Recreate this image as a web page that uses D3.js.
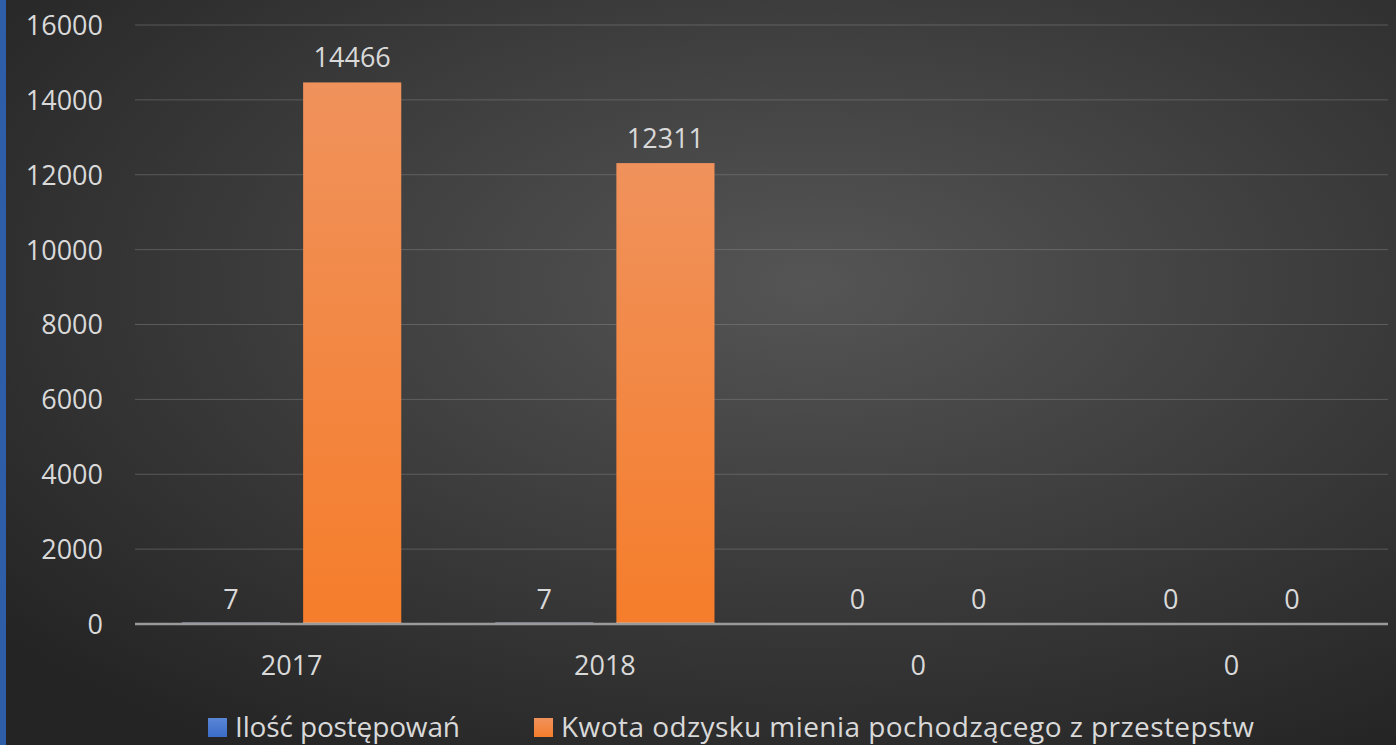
<!DOCTYPE html>
<html><head><meta charset="utf-8">
<script src="https://cdn.jsdelivr.net/npm/d3@7"></script>
<style>html,body{margin:0;padding:0;background:#2b2b2b;overflow:hidden}</style>
</head><body>
<script>
const categories = ["2017", "2018", "0", "0"];
const seriesNames = ["Ilość postępowań", "Kwota odzysku mienia pochodzącego z przestepstw"];
const seriesA = [7, 7, 0, 0];
const seriesB = [14466, 12311, 0, 0];
const yTicks = [0, 2000, 4000, 6000, 8000, 10000, 12000, 14000, 16000];

const W = 1396, H = 745;
const svg = d3.select("body").append("svg").attr("width", W).attr("height", H);
const defs = svg.append("defs");
const bg = defs.append("radialGradient").attr("id","bg").attr("cx","0.58").attr("cy","0.38").attr("r","0.75");
bg.append("stop").attr("offset","0").attr("stop-color","#555555");
bg.append("stop").attr("offset","1").attr("stop-color","#242424");
const og = defs.append("linearGradient").attr("id","og").attr("x1",0).attr("y1",0).attr("x2",0).attr("y2",1);
og.append("stop").attr("offset","0").attr("stop-color","#f0925c");
og.append("stop").attr("offset","1").attr("stop-color","#f57d2b");
const bgb = defs.append("linearGradient").attr("id","bgb").attr("x1",0).attr("y1",0).attr("x2",0).attr("y2",1);
bgb.append("stop").attr("offset","0").attr("stop-color","#5a86d6");
bgb.append("stop").attr("offset","1").attr("stop-color","#3a6cc8");

svg.append("rect").attr("width",W).attr("height",H).attr("fill","url(#bg)");
svg.append("rect").attr("x",0).attr("y",0).attr("width",6).attr("height",H).attr("fill","#2f5ea8");

const font = "'Open Sans', sans-serif";
const txt = "#d9d9d9";
const pLeft = 135, pRight = 1388, pTop = 25, pBottom = 624;
const y = d3.scaleLinear().domain([0,16000]).range([pBottom, pTop]);
const x0 = d3.scaleBand().domain(d3.range(categories.length)).range([pLeft, pRight]).paddingInner(0).paddingOuter(0);
const x1 = d3.scaleBand().domain([0,1]).range([47, x0.bandwidth()-47]).paddingInner(0.19);

// gridlines
svg.append("g").selectAll("line").data(yTicks.filter(d=>d>0)).join("line")
  .attr("x1",pLeft).attr("x2",pRight).attr("y1",d=>y(d)).attr("y2",d=>y(d))
  .attr("stroke","#8a8a8a").attr("stroke-opacity",0.45).attr("stroke-width",1);

// y axis labels
const yAxis = d3.axisLeft(y).tickValues(yTicks).tickSize(0).tickPadding(0).tickFormat(d3.format("d"));
const ya = svg.append("g").attr("transform",`translate(103,0)`).call(yAxis);
ya.select(".domain").remove();
ya.selectAll("text").attr("fill",txt).style("font-family",font).style("font-size","27px").attr("dy","0.35em");

const groups = svg.append("g").selectAll("g").data(categories.map((c,i)=>({c,i}))).join("g")
  .attr("transform",d=>`translate(${x0(d.i)},0)`);

// bars
groups.each(function(d){
  const g = d3.select(this);
  const vals = [seriesA[d.i], seriesB[d.i]];
  vals.forEach((v,k)=>{
    const h = pBottom - y(v);
    if (v>0) {
      g.append("rect").attr("x",x1(k)).attr("width",x1.bandwidth())
        .attr("y",y(v)).attr("height",Math.max(h,0))
        .attr("fill", k===0 ? "url(#bgb)" : "url(#og)");
    }
    g.append("text").attr("x",x1(k)+x1.bandwidth()/2).attr("y",y(v)-15)
      .attr("text-anchor","middle").attr("fill",txt).style("font-family",font).style("font-size","27px")
      .text(v);
  });
});

// baseline
svg.append("line").attr("x1",pLeft).attr("x2",pRight).attr("y1",pBottom).attr("y2",pBottom)
  .attr("stroke","#9a9a9a").attr("stroke-width",2.5);
groups.each(function(d){
  const g = d3.select(this);
  if (seriesA[d.i]>0) g.append("rect").attr("x",x1(0)).attr("width",x1.bandwidth()).attr("y",pBottom-1.5).attr("height",1.5).attr("fill","#a8bde6");
  if (seriesB[d.i]>0) g.append("rect").attr("x",x1(1)).attr("width",x1.bandwidth()).attr("y",pBottom-1.5).attr("height",1.5).attr("fill","#f5b487");
});

// category labels
const xAxis = d3.axisBottom(x0).tickSize(0).tickFormat(i=>categories[i]);
const xa = svg.append("g").attr("transform",`translate(0,${pBottom})`).call(xAxis);
xa.select(".domain").remove();
xa.selectAll("text").attr("fill",txt).style("font-family",font).style("font-size","27px").attr("y",51).attr("dy","0");

// legend
const leg = svg.append("g");
const legItems = [{n:seriesNames[0], c:"url(#bgb)", x:208, w:225},{n:seriesNames[1], c:"url(#og)", x:534, w:693}];
legItems.forEach(it=>{
  leg.append("rect").attr("x",it.x).attr("y",718).attr("width",19).attr("height",19).attr("fill",it.c);
  leg.append("text").attr("x",it.x+27).attr("y",737).attr("fill",txt).style("font-family",font).style("font-size","28px")
    .attr("textLength",it.w).attr("lengthAdjust","spacing").text(it.n);
});
</script>
</body></html>
